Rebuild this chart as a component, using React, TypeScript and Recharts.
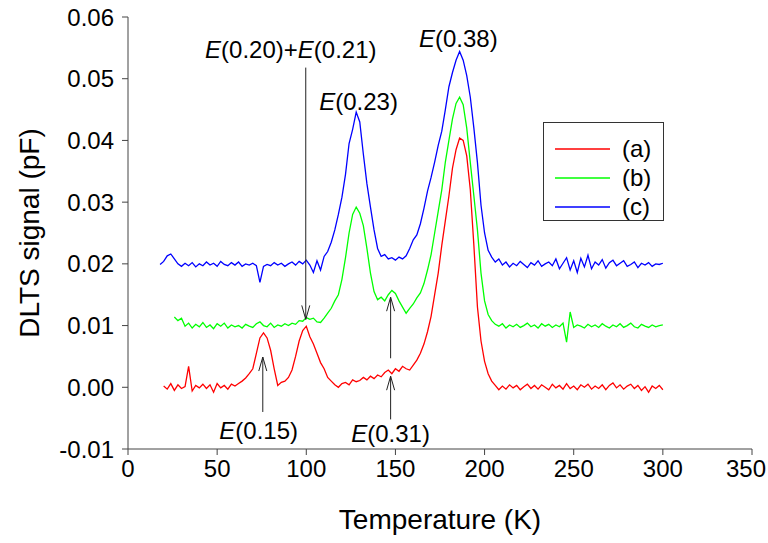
import { LineChart, Line, XAxis, YAxis, ReferenceLine, ReferenceDot } from 'recharts';

// temperature grid (K), 2 K step
const temps: number[] = [
  18, 20, 22, 24, 26, 28, 30, 32, 34, 36,
  38, 40, 42, 44, 46, 48, 50, 52, 54, 56,
  58, 60, 62, 64, 66, 68, 70, 72, 74, 76,
  78, 80, 82, 84, 86, 88, 90, 92, 94, 96,
  98, 100, 102, 104, 106, 108, 110, 112, 114, 116,
  118, 120, 122, 124, 126, 128, 130, 132, 134, 136,
  138, 140, 142, 144, 146, 148, 150, 152, 154, 156,
  158, 160, 162, 164, 166, 168, 170, 172, 174, 176,
  178, 180, 182, 184, 186, 188, 190, 192, 194, 196,
  198, 200, 202, 204, 206, 208, 210, 212, 214, 216,
  218, 220, 222, 224, 226, 228, 230, 232, 234, 236,
  238, 240, 242, 244, 246, 248, 250, 252, 254, 256,
  258, 260, 262, 264, 266, 268, 270, 272, 274, 276,
  278, 280, 282, 284, 286, 288, 290, 292, 294, 296,
  298, 300,
];

// (a) red
const seriesA: (number | null)[] = [
  null, 0.0002, -0.0003, 0.0006, -0.0005, 0.0004, -0.0002, 0.0001, 0.0034, -0.0006,
  0.0003, -0.0001, 0.0005, -0.0002, 0.0004, -0.0008, 0.0006, -0.0001, 0.0003, -0.0003,
  0.0005, 0.0002, 0.0006, 0.0010, 0.0015, 0.0022, 0.0030, 0.0055, 0.0080, 0.0088,
  0.0080, 0.0060, 0.0030, 0.0003, 0.0008, 0.0010, 0.0016, 0.0028, 0.0050, 0.0075,
  0.0092, 0.0099, 0.0082, 0.0070, 0.0055, 0.0040, 0.0030, 0.0016, 0.0010, 0.0004,
  0.0000, 0.0006, 0.0008, 0.0004, 0.0012, 0.0009, 0.0011, 0.0016, 0.0012, 0.0018,
  0.0014, 0.0020, 0.0017, 0.0024, 0.0028, 0.0022, 0.0030, 0.0026, 0.0034, 0.0030,
  0.0028, 0.0036, 0.0044, 0.0055, 0.0070, 0.0090, 0.0115, 0.0150, 0.0185, 0.0230,
  0.0270, 0.0310, 0.0355, 0.0385, 0.0404, 0.0400, 0.0375, 0.0320, 0.0230, 0.0130,
  0.0075, 0.0042, 0.0022, 0.0010, 0.0003, -0.0004, 0.0002, -0.0003, 0.0004, -0.0001,
  0.0003, -0.0004, 0.0001, 0.0005, -0.0002, 0.0003, -0.0003, 0.0004, 0.0000, -0.0004,
  0.0005, -0.0001, 0.0003, -0.0003, 0.0006, -0.0002, 0.0002, -0.0004, 0.0004, 0.0000,
  0.0005, -0.0003, 0.0002, -0.0002, 0.0004, -0.0004, 0.0003, 0.0007, -0.0001, 0.0004,
  -0.0003, 0.0002, 0.0005, -0.0002, 0.0003, -0.0005, 0.0001, -0.0008, 0.0002, -0.0002,
  0.0003, -0.0004,
];

// (b) green
const seriesB: (number | null)[] = [
  null, null, null, null, 0.0114, 0.0108, 0.0112, 0.0099, 0.0104, 0.0096,
  0.0102, 0.0098, 0.0105, 0.0097, 0.0101, 0.0095, 0.0103, 0.0099, 0.0104, 0.0096,
  0.0101, 0.0098, 0.0100, 0.0096, 0.0102, 0.0099, 0.0097, 0.0103, 0.0106, 0.0100,
  0.0098, 0.0104, 0.0097, 0.0101, 0.0099, 0.0103, 0.0100, 0.0104, 0.0102, 0.0108,
  0.0107, 0.0113, 0.0110, 0.0112, 0.0106, 0.0105, 0.0112, 0.0120, 0.0128, 0.0140,
  0.0150, 0.0175, 0.0210, 0.0250, 0.0280, 0.0292, 0.0282, 0.0262, 0.0225, 0.0185,
  0.0155, 0.0142, 0.0146, 0.0140, 0.0150, 0.0157, 0.0152, 0.0140, 0.0130, 0.0120,
  0.0128, 0.0135, 0.0145, 0.0153, 0.0168, 0.0190, 0.0215, 0.0250, 0.0285, 0.0320,
  0.0365, 0.0400, 0.0435, 0.0460, 0.0470, 0.0458, 0.0420, 0.0364, 0.0310, 0.0255,
  0.0185, 0.0140, 0.0118, 0.0108, 0.0102, 0.0099, 0.0103, 0.0096, 0.0101, 0.0098,
  0.0102, 0.0097, 0.0100, 0.0104, 0.0098, 0.0101, 0.0096, 0.0103, 0.0099, 0.0102,
  0.0097, 0.0101, 0.0098, 0.0104, 0.0073, 0.0122, 0.0097, 0.0101, 0.0099, 0.0096,
  0.0102, 0.0098, 0.0101, 0.0097, 0.0103, 0.0099, 0.0096, 0.0101, 0.0098, 0.0103,
  0.0097, 0.0100, 0.0104, 0.0098, 0.0096, 0.0102, 0.0099, 0.0097, 0.0101, 0.0098,
  0.0100, 0.0101,
];

// (c) blue
const seriesC: (number | null)[] = [
  0.0199, 0.0204, 0.0213, 0.0216, 0.0208, 0.0200, 0.0196, 0.0201, 0.0197, 0.0202,
  0.0195, 0.0200, 0.0197, 0.0203, 0.0198, 0.0201, 0.0196, 0.0204, 0.0199, 0.0197,
  0.0202, 0.0198, 0.0203, 0.0196, 0.0200, 0.0198, 0.0201, 0.0197, 0.0170, 0.0196,
  0.0199, 0.0197, 0.0202, 0.0198, 0.0201, 0.0196, 0.0200, 0.0203, 0.0198, 0.0204,
  0.0200, 0.0206, 0.0198, 0.0186, 0.0205, 0.0190, 0.0212, 0.0220, 0.0235, 0.0255,
  0.0280, 0.0308, 0.0345, 0.0395, 0.0418, 0.0446, 0.0430, 0.0378, 0.0330, 0.0292,
  0.0255, 0.0225, 0.0212, 0.0215, 0.0208, 0.0210, 0.0206, 0.0211, 0.0208, 0.0213,
  0.0225, 0.0239, 0.0247, 0.0265, 0.0290, 0.0318, 0.0340, 0.0365, 0.0392, 0.0415,
  0.0450, 0.0487, 0.0510, 0.0530, 0.0544, 0.0530, 0.0505, 0.0470, 0.0420, 0.0364,
  0.0295, 0.0250, 0.0222, 0.0211, 0.0203, 0.0208, 0.0198, 0.0203, 0.0195, 0.0201,
  0.0197, 0.0204, 0.0199, 0.0194, 0.0202, 0.0198, 0.0205, 0.0196, 0.0200, 0.0203,
  0.0197, 0.0208, 0.0192, 0.0201, 0.0210, 0.0190, 0.0205, 0.0186, 0.0209, 0.0195,
  0.0214, 0.0192, 0.0203, 0.0198, 0.0207, 0.0193, 0.0202, 0.0206, 0.0197, 0.0201,
  0.0205, 0.0196, 0.0199, 0.0203, 0.0194, 0.0201, 0.0198, 0.0202, 0.0196, 0.0200,
  0.0199, 0.0201,
];

const xTicks = [0, 50, 100, 150, 200, 250, 300, 350];
const yTicks = [-0.01, 0, 0.01, 0.02, 0.03, 0.04, 0.05, 0.06];

const legendItems = [
  { label: '(a)', color: '#ff0000' },
  { label: '(b)', color: '#00ff00' },
  { label: '(c)', color: '#0000ff' },
];

// arrows: tail -> tip
const arrows = [
  { x: 75.6, from: -0.0040, to: 0.0049 },
  { x: 99.7, from: 0.0518, to: 0.0110 },
  { x: 147.3, from: -0.0052, to: 0.0018 },
  { x: 147.3, from: 0.0047, to: 0.0146 },
];

// peak labels: number in E(...)
const peakLabels = [
  { x: 91.3, y: 0.0533, parts: ['0.20', '0.21'] },
  { x: 129.3, y: 0.0449, parts: ['0.23'] },
  { x: 185.3, y: 0.0551, parts: ['0.38'] },
  { x: 73.3, y: -0.0083, parts: ['0.15'] },
  { x: 147.3, y: -0.0089, parts: ['0.31'] },
];

const data = temps.map((t, i) => ({ t, a: seriesA[i], b: seriesB[i], c: seriesC[i] }));

const FONT = '"Liberation Sans", Arial, Helvetica, sans-serif';

const arrowShape = (p: any) => {
  const { x1, y1, x2, y2 } = p;
  const dir = y2 < y1 ? 1 : -1;
  const h = 14;
  const w = 4;
  return (
    <g>
      <line x1={x1} y1={y1} x2={x2} y2={y2} stroke="#222" strokeWidth={1} />
      <polyline
        points={`${x2 - w},${y2 + dir * h} ${x2},${y2} ${x2 + w},${y2 + dir * h}`}
        fill="none"
        stroke="#222"
        strokeWidth={1}
      />
    </g>
  );
};

const peakText = (parts: string[]) => (p: any) => (
  <text x={p.cx} y={p.cy} textAnchor="middle" fontFamily={FONT} fontSize={24} fill="#000">
    {parts.map((n, k) => (
      <tspan key={k}>
        {k > 0 ? '+' : ''}
        <tspan fontStyle="italic">E</tspan>({n})
      </tspan>
    ))}
  </text>
);

// keep the last x label inside the picture
const XTick = (p: any) => {
  const { x, y, payload } = p;
  const last = payload.value === 350;
  return (
    <text x={last ? 766 : x} y={y} dy="0.71em" textAnchor={last ? 'end' : 'middle'} fontFamily={FONT} fontSize={24} fill="#000">
      {payload.value}
    </text>
  );
};

const LegendBox = () => (
  <div
    style={{
      position: 'absolute',
      left: 543,
      top: 122,
      width: 121,
      height: 99,
      border: '1px solid #333',
      background: '#fff',
      fontFamily: FONT,
      fontSize: 24,
      boxSizing: 'border-box',
      paddingTop: 11,
    }}
  >
    {legendItems.map((it) => (
      <div key={it.label} style={{ display: 'flex', alignItems: 'center', height: 29 }}>
        <svg width={78} height={10}>
          <line x1={11} y1={5} x2={66} y2={5} stroke={it.color} strokeWidth={1.5} />
        </svg>
        <span>{it.label}</span>
      </div>
    ))}
  </div>
);

export default function App() {
  return (
    <div style={{ position: 'absolute', left: 0, top: 0, width: 768, height: 543, background: '#fff' }}>
      <LineChart width={768} height={543} data={data} margin={{ top: 17, right: 16, bottom: 14, left: 0 }}>
        <XAxis
          dataKey="t"
          type="number"
          domain={[0, 350]}
          ticks={xTicks}
          tickSize={6}
          tickMargin={5}
          height={80}
          stroke="#444"
          tick={<XTick />}
          label={{ value: 'Temperature (K)', position: 'insideBottom', offset: 0, fill: '#000', fontSize: 28, fontFamily: FONT }}
        />
        <YAxis
          type="number"
          domain={[-0.01, 0.06]}
          ticks={yTicks}
          tickFormatter={(v: number) => v.toFixed(2)}
          tickSize={6}
          tickMargin={8}
          width={128}
          stroke="#444"
          tick={{ fill: '#000', fontSize: 24, fontFamily: FONT }}
          label={{
            value: 'DLTS signal (pF)',
            angle: -90,
            position: 'insideLeft',
            offset: 29,
            fill: '#000',
            fontSize: 28,
            fontFamily: FONT,
            style: { textAnchor: 'middle' },
          }}
        />
        <Line dataKey="a" stroke="#ff0000" strokeWidth={1.3} dot={false} isAnimationActive={false} />
        <Line dataKey="b" stroke="#00ff00" strokeWidth={1.3} dot={false} isAnimationActive={false} />
        <Line dataKey="c" stroke="#0000ff" strokeWidth={1.3} dot={false} isAnimationActive={false} />
        {arrows.map((a, i) => (
          <ReferenceLine
            key={'ar' + i}
            segment={[{ x: a.x, y: a.from }, { x: a.x, y: a.to }]}
            shape={arrowShape}
          />
        ))}
        {peakLabels.map((l, i) => (
          <ReferenceDot key={'pl' + i} x={l.x} y={l.y} r={0} shape={peakText(l.parts)} />
        ))}
      </LineChart>
      <LegendBox />
    </div>
  );
}
